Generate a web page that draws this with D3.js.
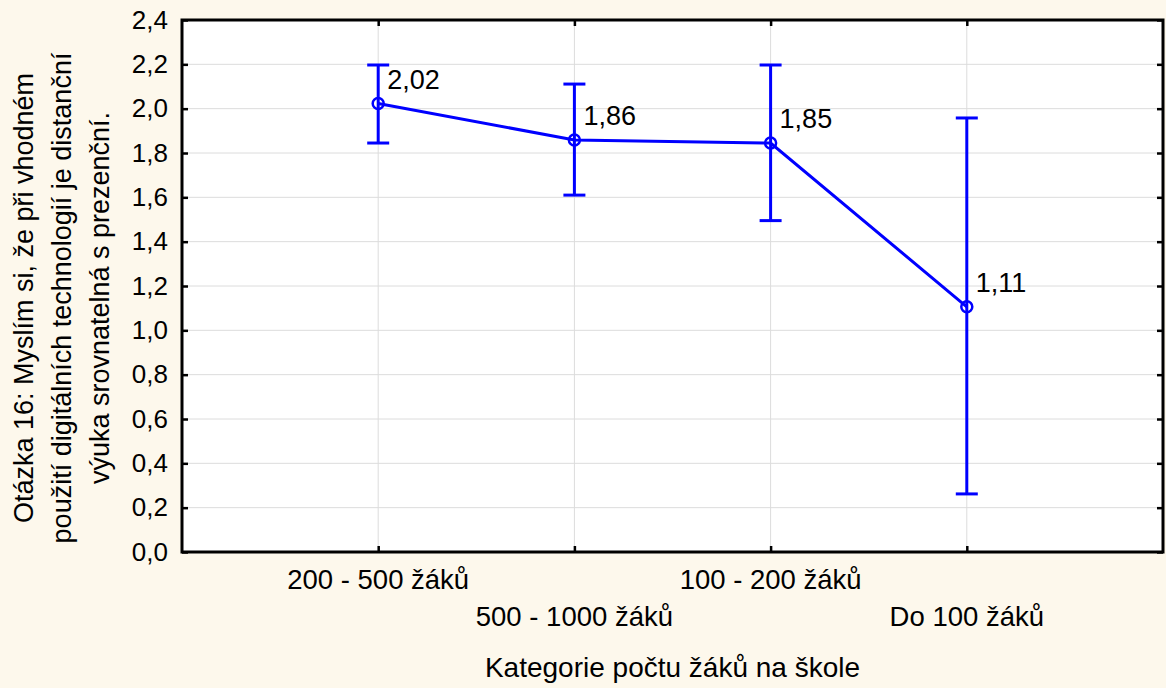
<!DOCTYPE html>
<html><head><meta charset="utf-8">
<script src="https://cdn.jsdelivr.net/npm/d3@7"></script>
<style>
html,body{margin:0;padding:0;background:#fdf8ec;}
text{font-family:"Liberation Sans",Arial,Helvetica,sans-serif;fill:#000;}
</style></head>
<body>
<svg id="chart" width="1166" height="688"></svg>
<script>
const categories = ["200 - 500 žáků", "500 - 1000 žáků", "100 - 200 žáků", "Do 100 žáků"];
const means = [2.023, 1.859, 1.845, 1.106];
const lower = [1.845, 1.610, 1.495, 0.262];
const upper = [2.197, 2.111, 2.197, 1.958];
const valueLabels = ["2,02", "1,86", "1,85", "1,11"];
const yTicks = [0, 0.2, 0.4, 0.6, 0.8, 1.0, 1.2, 1.4, 1.6, 1.8, 2.0, 2.2, 2.4];
const yTitle = ["Otázka 16: Myslím si, že při vhodném", "použití digitálních technologií je distanční", "výuka srovnatelná s prezenční."];
const xTitle = "Kategorie počtu žáků na škole";

const svg = d3.select("#chart");
const W = 1166, H = 688;
svg.append("rect").attr("width", W).attr("height", H).attr("fill", "#fdf8ec");

const L = 182, R = 1163, T = 20, B = 552;
const x = d3.scalePoint().domain(categories).range([L, R]).padding(1);
const y = d3.scaleLinear().domain([0, 2.4]).range([B, T]);
const blue = "#0000ff";

svg.append("rect").attr("x", L).attr("y", T).attr("width", R - L).attr("height", B - T).attr("fill", "#fff");

// grid
svg.append("g").selectAll("line").data(yTicks.filter(d => d > 0 && d < 2.4)).join("line")
  .attr("x1", L).attr("x2", R).attr("y1", d => y(d)).attr("y2", d => y(d))
  .attr("stroke", "#dcdcdc").attr("stroke-width", 1);
svg.append("g").selectAll("line").data(categories).join("line")
  .attr("x1", d => x(d)).attr("x2", d => x(d)).attr("y1", T).attr("y2", B)
  .attr("stroke", "#dcdcdc").attr("stroke-width", 1);

// axes with inward ticks
const fmt = d => d3.format(".1f")(d).replace(".", ",");
const yAxisL = d3.axisLeft(y).tickValues(yTicks).tickSize(-6).tickPadding(14).tickFormat(fmt);
const gL = svg.append("g").attr("transform", `translate(${L},0)`).call(yAxisL);
gL.select(".domain").remove();
gL.selectAll("line").attr("stroke", "#000").attr("stroke-width", 2.5);
gL.selectAll("text").style("font-size", "26px").attr("fill", "#000")
  .attr("font-family", "Liberation Sans, Arial, sans-serif");

const gR = svg.append("g").attr("transform", `translate(${R},0)`)
  .call(d3.axisRight(y).tickValues(yTicks).tickSize(-6).tickFormat(""));
gR.select(".domain").remove();
gR.selectAll("line").attr("stroke", "#000").attr("stroke-width", 2.5);

const gB = svg.append("g").attr("transform", `translate(0,${B})`)
  .call(d3.axisBottom(x).tickSize(-6).tickFormat(""));
gB.select(".domain").remove();
gB.selectAll("line").attr("stroke", "#000").attr("stroke-width", 2.5);
const gT = svg.append("g").attr("transform", `translate(0,${T})`)
  .call(d3.axisTop(x).tickSize(-6).tickFormat(""));
gT.select(".domain").remove();
gT.selectAll("line").attr("stroke", "#000").attr("stroke-width", 2.5);

// border
svg.append("rect").attr("x", L).attr("y", T).attr("width", R - L).attr("height", B - T)
  .attr("fill", "none").attr("stroke", "#000").attr("stroke-width", 3);

// x labels staggered
svg.append("g").selectAll("text").data(categories).join("text")
  .attr("x", d => x(d)).attr("y", (d, i) => i % 2 === 0 ? 589 : 626)
  .attr("text-anchor", "middle").style("font-size", "27.5px").text(d => d);

svg.append("text").attr("x", (L + R) / 2).attr("y", 677).attr("text-anchor", "middle")
  .style("font-size", "28px").text(xTitle);

// y title
const yt = svg.append("text").attr("transform", `translate(0,298) rotate(-90)`)
  .attr("text-anchor", "middle").style("font-size", "27px");
yTitle.forEach((t, i) => {
  yt.append("tspan").attr("x", 0).attr("y", 33 + i * 38).text(t);
});

// error bars
const data = categories.map((c, i) => ({c, m: means[i], lo: lower[i], hi: upper[i], lab: valueLabels[i]}));
const eb = svg.append("g").attr("stroke", blue).attr("stroke-width", 3).attr("fill", "none");
data.forEach(d => {
  eb.append("line").attr("x1", x(d.c)).attr("x2", x(d.c)).attr("y1", y(d.lo)).attr("y2", y(d.hi));
  eb.append("line").attr("x1", x(d.c) - 11).attr("x2", x(d.c) + 11).attr("y1", y(d.lo)).attr("y2", y(d.lo));
  eb.append("line").attr("x1", x(d.c) - 11).attr("x2", x(d.c) + 11).attr("y1", y(d.hi)).attr("y2", y(d.hi));
});

// line
svg.append("path").datum(data)
  .attr("d", d3.line().x(d => x(d.c)).y(d => y(d.m)))
  .attr("fill", "none").attr("stroke", blue).attr("stroke-width", 3);

svg.append("g").selectAll("circle").data(data).join("circle")
  .attr("cx", d => x(d.c)).attr("cy", d => y(d.m)).attr("r", 5.5)
  .attr("fill", "#fff").attr("fill-opacity", 0).attr("stroke", blue).attr("stroke-width", 2.5);

svg.append("g").selectAll("text").data(data).join("text")
  .attr("x", d => x(d.c) + 9).attr("y", d => y(d.m) - 15)
  .style("font-size", "27px").text(d => d.lab);
</script>
</body></html>
